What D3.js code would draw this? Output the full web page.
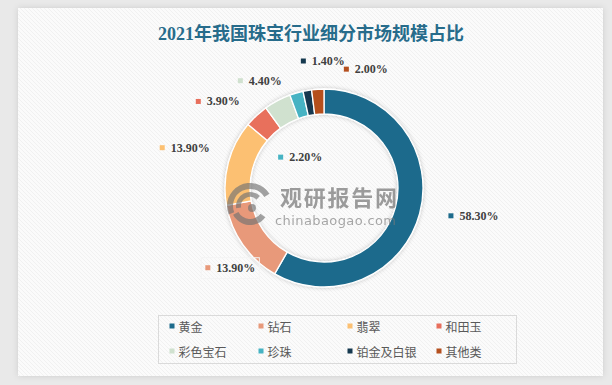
<!DOCTYPE html>
<html>
<head>
<meta charset="utf-8">
<script src="https://cdn.jsdelivr.net/npm/d3@7"></script>
<style>
body { margin: 0; background: #e9e9e9; }
svg { display: block; }
</style>
</head>
<body>
<div id="chart"></div>
<script>
var title = "2021年我国珠宝行业细分市场规模占比";
var categories = ["黄金", "钻石", "翡翠", "和田玉", "彩色宝石", "珍珠", "铂金及白银", "其他类"];
var shares = [58.3, 13.9, 13.9, 3.9, 4.4, 2.2, 1.4, 2.0];
var colors = ["#1d6b8c", "#e8997a", "#fcc072", "#e86f5c", "#d0e1cf", "#46b3c3", "#15394f", "#b5501f"];

// where the data labels sit: distance from centre, turn from slice middle (deg)
var labelRadius = [152, 123, 145, 137, 125, 39, 127, 126];
var labelTurn = [-4.4, -5.3, 1.2, -7.8, -2.8, -21.5, 9.2, 23.0];

var w = 612;
var h = 385;
var cx = 324, cy = 188;
var outerR = 99, innerR = 74;

var svg = d3.select("#chart")
    .append("svg")
    .attr("width", w)
    .attr("height", h);

var defs = svg.append("defs");

var hatch = defs.append("pattern")
    .attr("id", "hatch")
    .attr("patternUnits", "userSpaceOnUse")
    .attr("width", 4)
    .attr("height", 4);
hatch.append("rect").attr("width", 4).attr("height", 4).attr("fill", "#fbfbfb");
hatch.append("path")
    .attr("d", "M-1,-1 L5,5 M3,-1 L5,1 M-1,3 L1,5")
    .attr("stroke", "#f1f1f1")
    .attr("stroke-width", 1);

var panelShadow = defs.append("filter").attr("id", "panelShadow")
    .attr("x", "-5%").attr("y", "-5%").attr("width", "110%").attr("height", "110%");
panelShadow.append("feDropShadow")
    .attr("dx", 0).attr("dy", 0).attr("stdDeviation", 3)
    .attr("flood-color", "#000").attr("flood-opacity", 0.12);

var ringShadow = defs.append("filter").attr("id", "ringShadow")
    .attr("x", "-20%").attr("y", "-20%").attr("width", "140%").attr("height", "140%");
ringShadow.append("feDropShadow")
    .attr("dx", 0).attr("dy", 0).attr("stdDeviation", 2)
    .attr("flood-color", "#000").attr("flood-opacity", 0.22);

// panel
svg.append("rect")
    .attr("x", 18).attr("y", 8)
    .attr("width", 585).attr("height", 368)
    .attr("fill", "url(#hatch)")
    .attr("filter", "url(#panelShadow)");

// title
svg.append("text")
    .attr("x", 311)
    .attr("y", 34)
    .attr("text-anchor", "middle")
    .attr("dominant-baseline", "central")
    .attr("font-family", "'Liberation Serif', 'Noto Sans CJK SC', serif")
    .attr("font-weight", "bold")
    .attr("font-size", 18)
    .attr("fill", "#276c8b")
    .text(title);

// donut
var pie = d3.pie().sort(null).value(function (d) { return d; });
var arcs = pie(shares);
var arc = d3.arc().innerRadius(innerR).outerRadius(outerR);

var ring = svg.append("g")
    .attr("transform", "translate(" + cx + "," + cy + ")")
    .attr("filter", "url(#ringShadow)");

ring.selectAll("path")
    .data(arcs)
    .enter()
    .append("path")
    .attr("d", arc)
    .attr("fill", function (d, i) { return colors[i]; })
    .attr("stroke", "#ffffff")
    .attr("stroke-width", 1.3);

// watermark
var wm = svg.append("g").attr("opacity", 0.65);
var logoArc = d3.arc();
var logo = wm.append("g").attr("transform", "translate(250,206)");
logo.append("path")
    .attr("d", logoArc({ innerRadius: 17, outerRadius: 23, startAngle: -Math.PI * 0.62, endAngle: Math.PI * 0.32 }))
    .attr("fill", "#737373");
logo.append("path")
    .attr("d", logoArc({ innerRadius: 9, outerRadius: 14, startAngle: -Math.PI * 0.55, endAngle: Math.PI * 0.25 }))
    .attr("fill", "#737373");
logo.append("path")
    .attr("d", logoArc({ innerRadius: 13, outerRadius: 19, startAngle: Math.PI * 0.7, endAngle: Math.PI * 1.35 }))
    .attr("fill", "#737373");
logo.append("circle").attr("cx", 2).attr("cy", 2).attr("r", 4).attr("fill", "#737373");

wm.append("text")
    .attr("x", 280).attr("y", 196)
    .attr("dominant-baseline", "central")
    .attr("font-family", "'Noto Sans CJK SC', sans-serif")
    .attr("font-weight", "bold")
    .attr("font-size", 22)
    .attr("textLength", 117)
    .attr("fill", "#6a6a6a")
    .text("观研报告网");
wm.append("text")
    .attr("x", 275).attr("y", 220)
    .attr("dominant-baseline", "central")
    .attr("font-family", "'DejaVu Sans', sans-serif")
    .attr("font-size", 13)
    .attr("textLength", 121)
    .attr("fill", "#7a7a7a")
    .text("chinabaogao.com");

// data labels
var labels = svg.append("g");
arcs.forEach(function (d, i) {
    var mid = (d.startAngle + d.endAngle) / 2 + labelTurn[i] * Math.PI / 180;
    var px = cx + labelRadius[i] * Math.sin(mid);
    var py = cy - labelRadius[i] * Math.cos(mid);
    var g = labels.append("g");
    var t = g.append("text")
        .attr("dominant-baseline", "central")
        .attr("font-family", "'Liberation Serif', serif")
        .attr("font-weight", "bold")
        .attr("font-size", 12)
        .attr("fill", "#404040")
        .text(d3.format(".2f")(d.data) + "%");
    var tw = t.node().getComputedTextLength();
    var x0 = px - (tw + 11) / 2;
    t.attr("x", x0 + 11).attr("y", py);
    g.append("rect")
        .attr("x", x0).attr("y", py - 2.5)
        .attr("width", 5).attr("height", 5)
        .attr("fill", colors[i]);
    if (i === 1) {
        // selection outline left on this label
        g.append("rect")
            .attr("x", x0 - 4).attr("y", py - 10)
            .attr("width", tw + 19).attr("height", 21)
            .attr("fill", "none")
            .attr("stroke", "#f4f4f4")
            .attr("stroke-width", 1);
    }
});

// legend
svg.append("rect")
    .attr("x", 158.5).attr("y", 315.5)
    .attr("width", 358).attr("height", 48)
    .attr("fill", "none")
    .attr("stroke", "#dadada");

var colX = d3.scaleLinear().domain([0, 1]).range([169.5, 258.5]);
var rowY = d3.scaleLinear().domain([0, 1]).range([326, 351]);

var items = svg.append("g").selectAll("g")
    .data(categories)
    .enter()
    .append("g")
    .attr("transform", function (d, i) {
        return "translate(" + colX(i % 4) + "," + rowY(Math.floor(i / 4)) + ")";
    });
items.append("rect")
    .attr("x", 0).attr("y", -2.5)
    .attr("width", 5).attr("height", 5)
    .attr("fill", function (d, i) { return colors[i]; });
items.append("text")
    .attr("x", 9)
    .attr("dominant-baseline", "central")
    .attr("font-family", "'Noto Sans CJK SC', sans-serif")
    .attr("font-size", 12)
    .attr("fill", "#595959")
    .text(function (d) { return d; });
</script>
</body>
</html>
